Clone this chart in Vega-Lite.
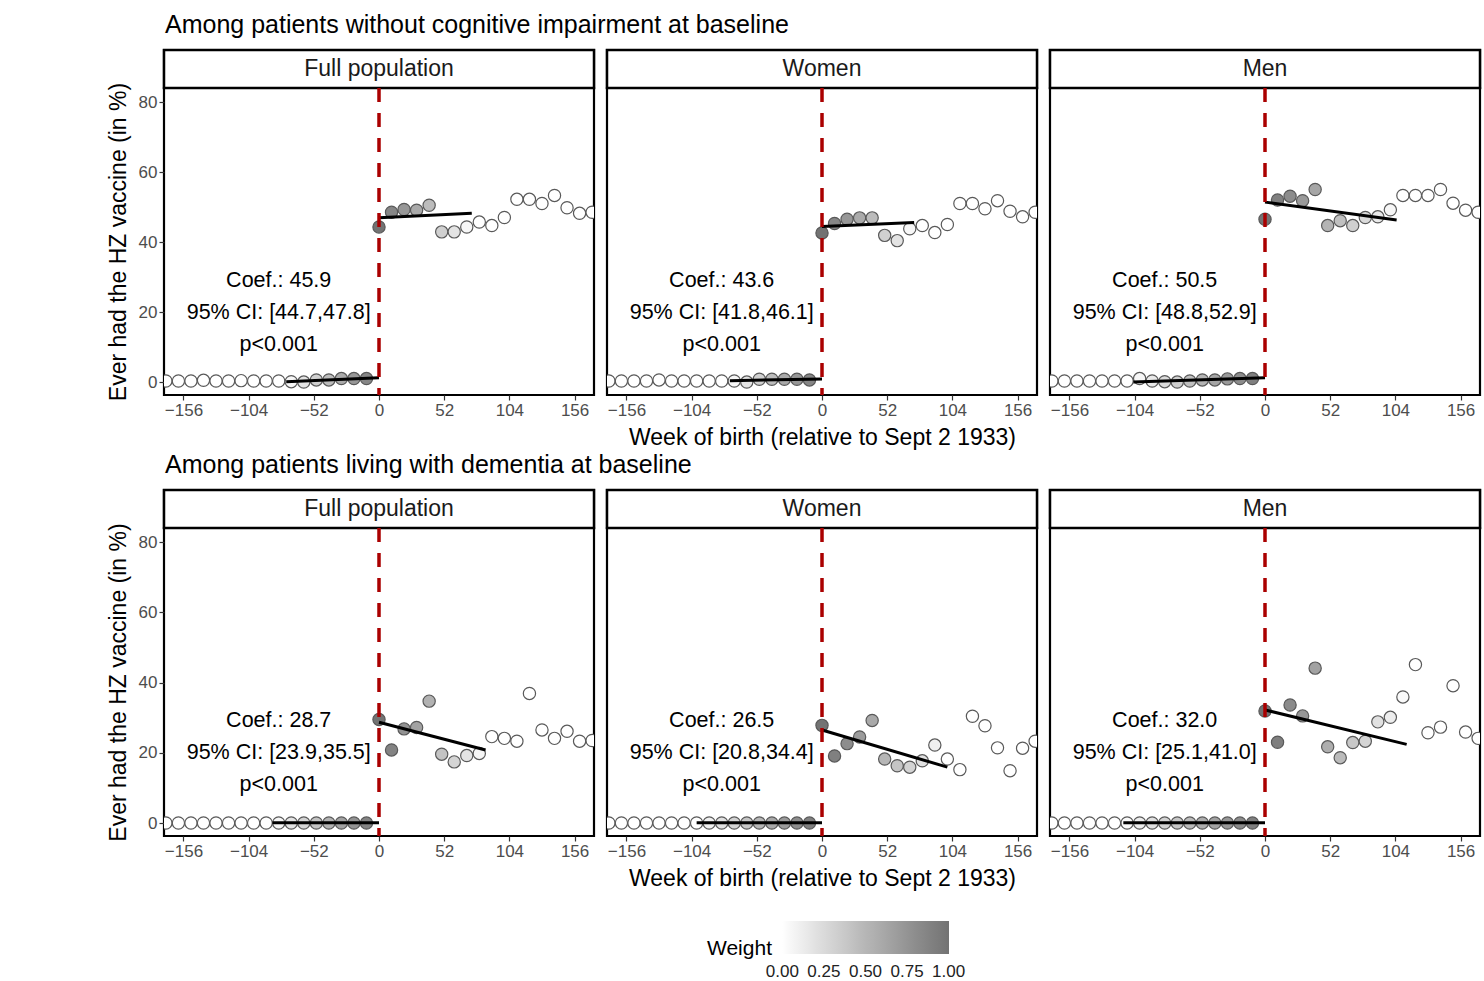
{
"$schema": "https://vega.github.io/schema/vega-lite/v6.json",
"background": "white",
"padding": {"left": 105, "top": 12, "right": 0, "bottom": 0},
"config": {
 "font": "Liberation Sans",
 "view": {"stroke": "black", "strokeWidth": 2.2},
 "axis": {"grid": false, "domain": false, "tickColor": "#333333", "tickSize": 5, "tickWidth": 1.2, "labelColor": "#4d4d4d", "labelFontSize": 17, "labelPadding": 2, "titleFontSize": 23, "titleFontWeight": "normal", "titleColor": "black"},
 "axisY": {"titlePadding": 8},
 "axisX": {"titlePadding": 8},
 "title": {"fontSize": 25, "fontWeight": "normal", "color": "black", "anchor": "start", "offset": 10}
},
"datasets": {
 "pts": [
  {"c":"A","g":"Full population","w":-170,"y":0.3,"wt":0},{"c":"A","g":"Full population","w":-160,"y":0.3,"wt":0},{"c":"A","g":"Full population","w":-150,"y":0.3,"wt":0},{"c":"A","g":"Full population","w":-140,"y":0.5,"wt":0},{"c":"A","g":"Full population","w":-130,"y":0.3,"wt":0},{"c":"A","g":"Full population","w":-120,"y":0.3,"wt":0},{"c":"A","g":"Full population","w":-110,"y":0.4,"wt":0},{"c":"A","g":"Full population","w":-100,"y":0.3,"wt":0},{"c":"A","g":"Full population","w":-90,"y":0.3,"wt":0},{"c":"A","g":"Full population","w":-80,"y":0.3,"wt":0},{"c":"A","g":"Full population","w":-70,"y":0.1,"wt":0.05},{"c":"A","g":"Full population","w":-60,"y":0.0,"wt":0.19},{"c":"A","g":"Full population","w":-50,"y":0.6,"wt":0.32},{"c":"A","g":"Full population","w":-40,"y":0.6,"wt":0.46},{"c":"A","g":"Full population","w":-30,"y":1.0,"wt":0.59},{"c":"A","g":"Full population","w":-20,"y":1.0,"wt":0.73},{"c":"A","g":"Full population","w":-10,"y":1.0,"wt":0.86},
  {"c":"A","g":"Full population","w":0,"y":44.3,"wt":1},{"c":"A","g":"Full population","w":10,"y":48.5,"wt":0.86},{"c":"A","g":"Full population","w":20,"y":49.3,"wt":0.73},{"c":"A","g":"Full population","w":30,"y":49.1,"wt":0.59},{"c":"A","g":"Full population","w":40,"y":50.5,"wt":0.46},{"c":"A","g":"Full population","w":50,"y":42.9,"wt":0.32},{"c":"A","g":"Full population","w":60,"y":42.9,"wt":0.19},{"c":"A","g":"Full population","w":70,"y":44.3,"wt":0.05},{"c":"A","g":"Full population","w":80,"y":45.7,"wt":0},{"c":"A","g":"Full population","w":90,"y":44.7,"wt":0},{"c":"A","g":"Full population","w":100,"y":47.0,"wt":0},{"c":"A","g":"Full population","w":110,"y":52.2,"wt":0},{"c":"A","g":"Full population","w":120,"y":52.2,"wt":0},{"c":"A","g":"Full population","w":130,"y":51.0,"wt":0},{"c":"A","g":"Full population","w":140,"y":53.3,"wt":0},{"c":"A","g":"Full population","w":150,"y":49.8,"wt":0},{"c":"A","g":"Full population","w":160,"y":48.2,"wt":0},{"c":"A","g":"Full population","w":170,"y":48.5,"wt":0},

  {"c":"A","g":"Women","w":-170,"y":0.3,"wt":0},{"c":"A","g":"Women","w":-160,"y":0.3,"wt":0},{"c":"A","g":"Women","w":-150,"y":0.3,"wt":0},{"c":"A","g":"Women","w":-140,"y":0.3,"wt":0},{"c":"A","g":"Women","w":-130,"y":0.6,"wt":0},{"c":"A","g":"Women","w":-120,"y":0.3,"wt":0},{"c":"A","g":"Women","w":-110,"y":0.3,"wt":0},{"c":"A","g":"Women","w":-100,"y":0.3,"wt":0},{"c":"A","g":"Women","w":-90,"y":0.3,"wt":0},{"c":"A","g":"Women","w":-80,"y":0.3,"wt":0},{"c":"A","g":"Women","w":-70,"y":0.3,"wt":0.05},{"c":"A","g":"Women","w":-60,"y":0.0,"wt":0.19},{"c":"A","g":"Women","w":-50,"y":0.8,"wt":0.32},{"c":"A","g":"Women","w":-40,"y":0.8,"wt":0.46},{"c":"A","g":"Women","w":-30,"y":0.8,"wt":0.59},{"c":"A","g":"Women","w":-20,"y":0.8,"wt":0.73},{"c":"A","g":"Women","w":-10,"y":0.6,"wt":0.86},
  {"c":"A","g":"Women","w":0,"y":42.6,"wt":1},{"c":"A","g":"Women","w":10,"y":45.3,"wt":0.86},{"c":"A","g":"Women","w":20,"y":46.5,"wt":0.73},{"c":"A","g":"Women","w":30,"y":46.9,"wt":0.59},{"c":"A","g":"Women","w":40,"y":46.9,"wt":0.46},{"c":"A","g":"Women","w":50,"y":41.9,"wt":0.32},{"c":"A","g":"Women","w":60,"y":40.4,"wt":0.19},{"c":"A","g":"Women","w":70,"y":43.8,"wt":0.05},{"c":"A","g":"Women","w":80,"y":44.7,"wt":0},{"c":"A","g":"Women","w":90,"y":42.7,"wt":0},{"c":"A","g":"Women","w":100,"y":45.0,"wt":0},{"c":"A","g":"Women","w":110,"y":51.0,"wt":0},{"c":"A","g":"Women","w":120,"y":51.0,"wt":0},{"c":"A","g":"Women","w":130,"y":49.5,"wt":0},{"c":"A","g":"Women","w":140,"y":51.8,"wt":0},{"c":"A","g":"Women","w":150,"y":48.8,"wt":0},{"c":"A","g":"Women","w":160,"y":47.2,"wt":0},{"c":"A","g":"Women","w":170,"y":48.5,"wt":0},

  {"c":"A","g":"Men","w":-170,"y":0.3,"wt":0},{"c":"A","g":"Men","w":-160,"y":0.3,"wt":0},{"c":"A","g":"Men","w":-150,"y":0.3,"wt":0},{"c":"A","g":"Men","w":-140,"y":0.3,"wt":0},{"c":"A","g":"Men","w":-130,"y":0.3,"wt":0},{"c":"A","g":"Men","w":-120,"y":0.3,"wt":0},{"c":"A","g":"Men","w":-110,"y":0.3,"wt":0},{"c":"A","g":"Men","w":-100,"y":1.0,"wt":0.05},{"c":"A","g":"Men","w":-90,"y":0.3,"wt":0.14},{"c":"A","g":"Men","w":-80,"y":0.1,"wt":0.24},{"c":"A","g":"Men","w":-70,"y":0.0,"wt":0.33},{"c":"A","g":"Men","w":-60,"y":0.3,"wt":0.43},{"c":"A","g":"Men","w":-50,"y":0.6,"wt":0.52},{"c":"A","g":"Men","w":-40,"y":0.6,"wt":0.62},{"c":"A","g":"Men","w":-30,"y":0.9,"wt":0.71},{"c":"A","g":"Men","w":-20,"y":1.0,"wt":0.81},{"c":"A","g":"Men","w":-10,"y":1.0,"wt":0.9},
  {"c":"A","g":"Men","w":0,"y":46.5,"wt":1},{"c":"A","g":"Men","w":10,"y":52.0,"wt":0.9},{"c":"A","g":"Men","w":20,"y":53.1,"wt":0.81},{"c":"A","g":"Men","w":30,"y":51.8,"wt":0.71},{"c":"A","g":"Men","w":40,"y":55.0,"wt":0.62},{"c":"A","g":"Men","w":50,"y":44.7,"wt":0.52},{"c":"A","g":"Men","w":60,"y":46.1,"wt":0.43},{"c":"A","g":"Men","w":70,"y":44.7,"wt":0.33},{"c":"A","g":"Men","w":80,"y":47.0,"wt":0.24},{"c":"A","g":"Men","w":90,"y":47.2,"wt":0.14},{"c":"A","g":"Men","w":100,"y":49.2,"wt":0.05},{"c":"A","g":"Men","w":110,"y":53.3,"wt":0},{"c":"A","g":"Men","w":120,"y":53.3,"wt":0},{"c":"A","g":"Men","w":130,"y":53.3,"wt":0},{"c":"A","g":"Men","w":140,"y":55.0,"wt":0},{"c":"A","g":"Men","w":150,"y":51.1,"wt":0},{"c":"A","g":"Men","w":160,"y":49.1,"wt":0},{"c":"A","g":"Men","w":170,"y":48.5,"wt":0},

  {"c":"B","g":"Full population","w":-170,"y":0,"wt":0},{"c":"B","g":"Full population","w":-160,"y":0,"wt":0},{"c":"B","g":"Full population","w":-150,"y":0,"wt":0},{"c":"B","g":"Full population","w":-140,"y":0,"wt":0},{"c":"B","g":"Full population","w":-130,"y":0,"wt":0},{"c":"B","g":"Full population","w":-120,"y":0,"wt":0},{"c":"B","g":"Full population","w":-110,"y":0,"wt":0},{"c":"B","g":"Full population","w":-100,"y":0,"wt":0},{"c":"B","g":"Full population","w":-90,"y":0,"wt":0},{"c":"B","g":"Full population","w":-80,"y":0,"wt":0.06},{"c":"B","g":"Full population","w":-70,"y":0,"wt":0.18},{"c":"B","g":"Full population","w":-60,"y":0,"wt":0.29},{"c":"B","g":"Full population","w":-50,"y":0,"wt":0.41},{"c":"B","g":"Full population","w":-40,"y":0,"wt":0.53},{"c":"B","g":"Full population","w":-30,"y":0,"wt":0.65},{"c":"B","g":"Full population","w":-20,"y":0,"wt":0.76},{"c":"B","g":"Full population","w":-10,"y":0,"wt":0.88},
  {"c":"B","g":"Full population","w":0,"y":29.5,"wt":1},{"c":"B","g":"Full population","w":10,"y":20.8,"wt":0.88},{"c":"B","g":"Full population","w":20,"y":26.8,"wt":0.76},{"c":"B","g":"Full population","w":30,"y":27.2,"wt":0.65},{"c":"B","g":"Full population","w":40,"y":34.7,"wt":0.53},{"c":"B","g":"Full population","w":50,"y":19.6,"wt":0.41},{"c":"B","g":"Full population","w":60,"y":17.4,"wt":0.29},{"c":"B","g":"Full population","w":70,"y":19.2,"wt":0.18},{"c":"B","g":"Full population","w":80,"y":19.8,"wt":0.06},{"c":"B","g":"Full population","w":90,"y":24.6,"wt":0},{"c":"B","g":"Full population","w":100,"y":24.1,"wt":0},{"c":"B","g":"Full population","w":110,"y":23.3,"wt":0},{"c":"B","g":"Full population","w":120,"y":36.9,"wt":0},{"c":"B","g":"Full population","w":130,"y":26.5,"wt":0},{"c":"B","g":"Full population","w":140,"y":24.1,"wt":0},{"c":"B","g":"Full population","w":150,"y":26.1,"wt":0},{"c":"B","g":"Full population","w":160,"y":23.3,"wt":0},{"c":"B","g":"Full population","w":170,"y":23.5,"wt":0},

  {"c":"B","g":"Women","w":-170,"y":0,"wt":0},{"c":"B","g":"Women","w":-160,"y":0,"wt":0},{"c":"B","g":"Women","w":-150,"y":0,"wt":0},{"c":"B","g":"Women","w":-140,"y":0,"wt":0},{"c":"B","g":"Women","w":-130,"y":0,"wt":0},{"c":"B","g":"Women","w":-120,"y":0,"wt":0},{"c":"B","g":"Women","w":-110,"y":0,"wt":0},{"c":"B","g":"Women","w":-100,"y":0,"wt":0},{"c":"B","g":"Women","w":-90,"y":0,"wt":0.1},{"c":"B","g":"Women","w":-80,"y":0,"wt":0.2},{"c":"B","g":"Women","w":-70,"y":0,"wt":0.3},{"c":"B","g":"Women","w":-60,"y":0,"wt":0.4},{"c":"B","g":"Women","w":-50,"y":0,"wt":0.5},{"c":"B","g":"Women","w":-40,"y":0,"wt":0.6},{"c":"B","g":"Women","w":-30,"y":0,"wt":0.7},{"c":"B","g":"Women","w":-20,"y":0,"wt":0.8},{"c":"B","g":"Women","w":-10,"y":0,"wt":0.9},
  {"c":"B","g":"Women","w":0,"y":27.8,"wt":1},{"c":"B","g":"Women","w":10,"y":19.1,"wt":0.9},{"c":"B","g":"Women","w":20,"y":22.6,"wt":0.8},{"c":"B","g":"Women","w":30,"y":24.5,"wt":0.7},{"c":"B","g":"Women","w":40,"y":29.2,"wt":0.6},{"c":"B","g":"Women","w":50,"y":18.2,"wt":0.5},{"c":"B","g":"Women","w":60,"y":16.3,"wt":0.4},{"c":"B","g":"Women","w":70,"y":15.9,"wt":0.3},{"c":"B","g":"Women","w":80,"y":17.7,"wt":0.2},{"c":"B","g":"Women","w":90,"y":22.2,"wt":0.1},{"c":"B","g":"Women","w":100,"y":18.2,"wt":0},{"c":"B","g":"Women","w":110,"y":15.2,"wt":0},{"c":"B","g":"Women","w":120,"y":30.4,"wt":0},{"c":"B","g":"Women","w":130,"y":27.7,"wt":0},{"c":"B","g":"Women","w":140,"y":21.4,"wt":0},{"c":"B","g":"Women","w":150,"y":14.9,"wt":0},{"c":"B","g":"Women","w":160,"y":21.3,"wt":0},{"c":"B","g":"Women","w":170,"y":23.3,"wt":0},

  {"c":"B","g":"Men","w":-170,"y":0,"wt":0},{"c":"B","g":"Men","w":-160,"y":0,"wt":0},{"c":"B","g":"Men","w":-150,"y":0,"wt":0},{"c":"B","g":"Men","w":-140,"y":0,"wt":0},{"c":"B","g":"Men","w":-130,"y":0,"wt":0},{"c":"B","g":"Men","w":-120,"y":0,"wt":0},{"c":"B","g":"Men","w":-110,"y":0,"wt":0.03},{"c":"B","g":"Men","w":-100,"y":0,"wt":0.12},{"c":"B","g":"Men","w":-90,"y":0,"wt":0.2},{"c":"B","g":"Men","w":-80,"y":0,"wt":0.29},{"c":"B","g":"Men","w":-70,"y":0,"wt":0.38},{"c":"B","g":"Men","w":-60,"y":0,"wt":0.47},{"c":"B","g":"Men","w":-50,"y":0,"wt":0.56},{"c":"B","g":"Men","w":-40,"y":0,"wt":0.65},{"c":"B","g":"Men","w":-30,"y":0,"wt":0.73},{"c":"B","g":"Men","w":-20,"y":0,"wt":0.82},{"c":"B","g":"Men","w":-10,"y":0,"wt":0.91},
  {"c":"B","g":"Men","w":0,"y":31.9,"wt":1},{"c":"B","g":"Men","w":10,"y":23.0,"wt":0.91},{"c":"B","g":"Men","w":20,"y":33.6,"wt":0.82},{"c":"B","g":"Men","w":30,"y":30.5,"wt":0.73},{"c":"B","g":"Men","w":40,"y":44.1,"wt":0.65},{"c":"B","g":"Men","w":50,"y":21.7,"wt":0.56},{"c":"B","g":"Men","w":60,"y":18.6,"wt":0.47},{"c":"B","g":"Men","w":70,"y":22.9,"wt":0.38},{"c":"B","g":"Men","w":80,"y":23.3,"wt":0.29},{"c":"B","g":"Men","w":90,"y":28.8,"wt":0.2},{"c":"B","g":"Men","w":100,"y":30.1,"wt":0.12},{"c":"B","g":"Men","w":110,"y":35.9,"wt":0.03},{"c":"B","g":"Men","w":120,"y":45.1,"wt":0},{"c":"B","g":"Men","w":130,"y":25.7,"wt":0},{"c":"B","g":"Men","w":140,"y":27.3,"wt":0},{"c":"B","g":"Men","w":150,"y":39.1,"wt":0},{"c":"B","g":"Men","w":160,"y":25.9,"wt":0},{"c":"B","g":"Men","w":170,"y":24.1,"wt":0}
 ],
 "lines": [
  {"c":"A","g":"Full population","s":"L","w":-74,"y":0.1},{"c":"A","g":"Full population","s":"L","w":0,"y":1.2},{"c":"A","g":"Full population","s":"R","w":0,"y":46.9},{"c":"A","g":"Full population","s":"R","w":74,"y":48.2},
  {"c":"A","g":"Women","s":"L","w":-73.5,"y":0.4},{"c":"A","g":"Women","s":"L","w":0,"y":0.9},{"c":"A","g":"Women","s":"R","w":0,"y":44.4},{"c":"A","g":"Women","s":"R","w":73.5,"y":45.6},
  {"c":"A","g":"Men","s":"L","w":-105,"y":0.0},{"c":"A","g":"Men","s":"L","w":0,"y":1.2},{"c":"A","g":"Men","s":"R","w":0,"y":51.4},{"c":"A","g":"Men","s":"R","w":105,"y":46.3},
  {"c":"B","g":"Full population","s":"L","w":-85,"y":0.1},{"c":"B","g":"Full population","s":"L","w":0,"y":0.1},{"c":"B","g":"Full population","s":"R","w":0,"y":28.7},{"c":"B","g":"Full population","s":"R","w":85,"y":20.8},
  {"c":"B","g":"Women","s":"L","w":-100,"y":0.1},{"c":"B","g":"Women","s":"L","w":0,"y":0.1},{"c":"B","g":"Women","s":"R","w":0,"y":26.5},{"c":"B","g":"Women","s":"R","w":100,"y":15.9},
  {"c":"B","g":"Men","s":"L","w":-113,"y":0.1},{"c":"B","g":"Men","s":"L","w":0,"y":0.1},{"c":"B","g":"Men","s":"R","w":0,"y":32.2},{"c":"B","g":"Men","s":"R","w":113,"y":22.4}
 ],
 "ann": [
  {"c":"A","g":"Full population","t":["Coef.: 45.9","95% CI: [44.7,47.8]","p<0.001"]},
  {"c":"A","g":"Women","t":["Coef.: 43.6","95% CI: [41.8,46.1]","p<0.001"]},
  {"c":"A","g":"Men","t":["Coef.: 50.5","95% CI: [48.8,52.9]","p<0.001"]},
  {"c":"B","g":"Full population","t":["Coef.: 28.7","95% CI: [23.9,35.5]","p<0.001"]},
  {"c":"B","g":"Women","t":["Coef.: 26.5","95% CI: [20.8,34.4]","p<0.001"]},
  {"c":"B","g":"Men","t":["Coef.: 32.0","95% CI: [25.1,41.0]","p<0.001"]}
 ]
},
"resolve": {"scale": {"fill": "shared"}, "legend": {"fill": "shared"}},
"spacing": 1,
"vconcat": [
 {"title": {"text": "Among patients without cognitive impairment at baseline", "dx": 59},
  "spacing": 7,
  "hconcat": [
   {"spacing": 0, "bounds": "flush", "vconcat": [
    {"width": 430, "height": 38, "data": {"values": [{"label": "Full population"}]}, "layer": [
     {"mark": {"type": "rect", "fill": "white", "stroke": "black", "strokeWidth": 2.5}, "encoding": {"x": {"datum": 0, "type": "quantitative", "scale": {"domain": [0, 1], "nice": false}, "axis": null}, "x2": {"datum": 1}, "y": {"datum": 0, "type": "quantitative", "scale": {"domain": [0, 1], "nice": false}, "axis": null}, "y2": {"datum": 1}}},
     {"mark": {"type": "text", "fontSize": 23, "color": "#1a1a1a"}, "encoding": {"x": {"datum": 0.5, "type": "quantitative", "axis": null}, "y": {"datum": 0.5, "type": "quantitative", "axis": null}, "text": {"field": "label", "type": "nominal"}}}
    ]},
    {"width": 430, "height": 307, "layer": [
     {"data": {"name": "pts"}, "transform": [{"filter": "datum.c==='A' && datum.g==='Full population'"}], "mark": {"type": "circle", "size": 150, "stroke": "#595959", "strokeWidth": 1.2, "opacity": 1, "clip": true},
      "encoding": {"x": {"field": "w", "type": "quantitative", "scale": {"domain": [-171.5, 171.5], "nice": false, "zero": false}, "axis": {"values": [-156,-104,-52,0,52,104,156], "title": null}},
       "y": {"field": "y", "type": "quantitative", "scale": {"domain": [-3.7, 84], "nice": false, "zero": false}, "axis": {"values": [0,20,40,60,80], "title": "Ever had the HZ vaccine (in %)"}},
       "fill": {"field": "wt", "type": "quantitative", "scale": {"domain": [-0.002, 1.002], "range": ["#ffffff", "#737373"]}, "legend": {"title": "Weight", "orient": "none", "legendX": 543, "legendY": 871, "direction": "horizontal", "gradientLength": 167, "gradientThickness": 33, "gradientStrokeWidth": 0, "titleOrient": "left", "titleAnchor": "middle", "titleBaseline": "top", "titleFontSize": 21, "titleFontWeight": "normal", "titleColor": "black", "titlePadding": 10, "labelFontSize": 17, "labelColor": "#222222", "labelOverlap": false, "labelOffset": 10, "values": [0, 0.25, 0.5, 0.75, 1], "format": ".2f"}}}},
     {"data": {"name": "lines"}, "transform": [{"filter": "datum.c==='A' && datum.g==='Full population'"}], "mark": {"type": "line", "color": "black", "strokeWidth": 3},
      "encoding": {"x": {"field": "w", "type": "quantitative", "axis": {"values": [-156,-104,-52,0,52,104,156], "title": null}}, "y": {"field": "y", "type": "quantitative", "axis": {"values": [0,20,40,60,80], "title": "Ever had the HZ vaccine (in %)"}}, "detail": {"field": "s"}}},
     {"data": {"values": [{}]}, "mark": {"type": "rule", "color": "#aa0000", "strokeWidth": 3.5, "strokeDash": [14, 11]}, "encoding": {"x": {"datum": 0, "type": "quantitative", "axis": {"values": [-156,-104,-52,0,52,104,156], "title": null}}}},
     {"data": {"name": "ann"}, "transform": [{"filter": "datum.c==='A' && datum.g==='Full population'"}], "mark": {"type": "text", "fontSize": 21.5, "lineHeight": 32, "color": "black"},
      "encoding": {"x": {"datum": -80, "type": "quantitative", "axis": {"values": [-156,-104,-52,0,52,104,156], "title": null}}, "y": {"datum": 29, "type": "quantitative", "axis": {"values": [0,20,40,60,80], "title": "Ever had the HZ vaccine (in %)"}}, "text": {"field": "t"}}}
    ]}
   ]},
   {"spacing": 0, "bounds": "flush", "vconcat": [
    {"width": 430, "height": 38, "data": {"values": [{"label": "Women"}]}, "layer": [
     {"mark": {"type": "rect", "fill": "white", "stroke": "black", "strokeWidth": 2.5}, "encoding": {"x": {"datum": 0, "type": "quantitative", "scale": {"domain": [0, 1], "nice": false}, "axis": null}, "x2": {"datum": 1}, "y": {"datum": 0, "type": "quantitative", "scale": {"domain": [0, 1], "nice": false}, "axis": null}, "y2": {"datum": 1}}},
     {"mark": {"type": "text", "fontSize": 23, "color": "#1a1a1a"}, "encoding": {"x": {"datum": 0.5, "type": "quantitative", "axis": null}, "y": {"datum": 0.5, "type": "quantitative", "axis": null}, "text": {"field": "label", "type": "nominal"}}}
    ]},
    {"width": 430, "height": 307, "layer": [
     {"data": {"name": "pts"}, "transform": [{"filter": "datum.c==='A' && datum.g==='Women'"}], "mark": {"type": "circle", "size": 150, "stroke": "#595959", "strokeWidth": 1.2, "opacity": 1, "clip": true},
      "encoding": {"x": {"field": "w", "type": "quantitative", "scale": {"domain": [-171.5, 171.5], "nice": false, "zero": false}, "axis": {"values": [-156,-104,-52,0,52,104,156], "title": "Week of birth (relative to Sept 2 1933)"}},
       "y": {"field": "y", "type": "quantitative", "scale": {"domain": [-3.7, 84], "nice": false, "zero": false}, "axis": null},
       "fill": {"field": "wt", "type": "quantitative", "scale": {"domain": [-0.002, 1.002], "range": ["#ffffff", "#737373"]}, "legend": {"title": "Weight", "orient": "none", "legendX": 543, "legendY": 871, "direction": "horizontal", "gradientLength": 167, "gradientThickness": 33, "gradientStrokeWidth": 0, "titleOrient": "left", "titleAnchor": "middle", "titleBaseline": "top", "titleFontSize": 21, "titleFontWeight": "normal", "titleColor": "black", "titlePadding": 10, "labelFontSize": 17, "labelColor": "#222222", "labelOverlap": false, "labelOffset": 10, "values": [0, 0.25, 0.5, 0.75, 1], "format": ".2f"}}}},
     {"data": {"name": "lines"}, "transform": [{"filter": "datum.c==='A' && datum.g==='Women'"}], "mark": {"type": "line", "color": "black", "strokeWidth": 3},
      "encoding": {"x": {"field": "w", "type": "quantitative", "axis": {"values": [-156,-104,-52,0,52,104,156], "title": "Week of birth (relative to Sept 2 1933)"}}, "y": {"field": "y", "type": "quantitative", "axis": null}, "detail": {"field": "s"}}},
     {"data": {"values": [{}]}, "mark": {"type": "rule", "color": "#aa0000", "strokeWidth": 3.5, "strokeDash": [14, 11]}, "encoding": {"x": {"datum": 0, "type": "quantitative", "axis": {"values": [-156,-104,-52,0,52,104,156], "title": "Week of birth (relative to Sept 2 1933)"}}}},
     {"data": {"name": "ann"}, "transform": [{"filter": "datum.c==='A' && datum.g==='Women'"}], "mark": {"type": "text", "fontSize": 21.5, "lineHeight": 32, "color": "black"},
      "encoding": {"x": {"datum": -80, "type": "quantitative", "axis": {"values": [-156,-104,-52,0,52,104,156], "title": "Week of birth (relative to Sept 2 1933)"}}, "y": {"datum": 29, "type": "quantitative", "axis": null}, "text": {"field": "t"}}}
    ]}
   ]},
   {"spacing": 0, "bounds": "flush", "vconcat": [
    {"width": 430, "height": 38, "data": {"values": [{"label": "Men"}]}, "layer": [
     {"mark": {"type": "rect", "fill": "white", "stroke": "black", "strokeWidth": 2.5}, "encoding": {"x": {"datum": 0, "type": "quantitative", "scale": {"domain": [0, 1], "nice": false}, "axis": null}, "x2": {"datum": 1}, "y": {"datum": 0, "type": "quantitative", "scale": {"domain": [0, 1], "nice": false}, "axis": null}, "y2": {"datum": 1}}},
     {"mark": {"type": "text", "fontSize": 23, "color": "#1a1a1a"}, "encoding": {"x": {"datum": 0.5, "type": "quantitative", "axis": null}, "y": {"datum": 0.5, "type": "quantitative", "axis": null}, "text": {"field": "label", "type": "nominal"}}}
    ]},
    {"width": 430, "height": 307, "layer": [
     {"data": {"name": "pts"}, "transform": [{"filter": "datum.c==='A' && datum.g==='Men'"}], "mark": {"type": "circle", "size": 150, "stroke": "#595959", "strokeWidth": 1.2, "opacity": 1, "clip": true},
      "encoding": {"x": {"field": "w", "type": "quantitative", "scale": {"domain": [-171.5, 171.5], "nice": false, "zero": false}, "axis": {"values": [-156,-104,-52,0,52,104,156], "title": null}},
       "y": {"field": "y", "type": "quantitative", "scale": {"domain": [-3.7, 84], "nice": false, "zero": false}, "axis": null},
       "fill": {"field": "wt", "type": "quantitative", "scale": {"domain": [-0.002, 1.002], "range": ["#ffffff", "#737373"]}, "legend": {"title": "Weight", "orient": "none", "legendX": 543, "legendY": 871, "direction": "horizontal", "gradientLength": 167, "gradientThickness": 33, "gradientStrokeWidth": 0, "titleOrient": "left", "titleAnchor": "middle", "titleBaseline": "top", "titleFontSize": 21, "titleFontWeight": "normal", "titleColor": "black", "titlePadding": 10, "labelFontSize": 17, "labelColor": "#222222", "labelOverlap": false, "labelOffset": 10, "values": [0, 0.25, 0.5, 0.75, 1], "format": ".2f"}}}},
     {"data": {"name": "lines"}, "transform": [{"filter": "datum.c==='A' && datum.g==='Men'"}], "mark": {"type": "line", "color": "black", "strokeWidth": 3},
      "encoding": {"x": {"field": "w", "type": "quantitative", "axis": {"values": [-156,-104,-52,0,52,104,156], "title": null}}, "y": {"field": "y", "type": "quantitative", "axis": null}, "detail": {"field": "s"}}},
     {"data": {"values": [{}]}, "mark": {"type": "rule", "color": "#aa0000", "strokeWidth": 3.5, "strokeDash": [14, 11]}, "encoding": {"x": {"datum": 0, "type": "quantitative", "axis": {"values": [-156,-104,-52,0,52,104,156], "title": null}}}},
     {"data": {"name": "ann"}, "transform": [{"filter": "datum.c==='A' && datum.g==='Men'"}], "mark": {"type": "text", "fontSize": 21.5, "lineHeight": 32, "color": "black"},
      "encoding": {"x": {"datum": -80, "type": "quantitative", "axis": {"values": [-156,-104,-52,0,52,104,156], "title": null}}, "y": {"datum": 29, "type": "quantitative", "axis": null}, "text": {"field": "t"}}}
    ]}
   ]}
  ]},
 {"title": {"text": "Among patients living with dementia at baseline", "dx": 59},
  "spacing": 7,
  "hconcat": [
   {"spacing": 0, "bounds": "flush", "vconcat": [
    {"width": 430, "height": 38, "data": {"values": [{"label": "Full population"}]}, "layer": [
     {"mark": {"type": "rect", "fill": "white", "stroke": "black", "strokeWidth": 2.5}, "encoding": {"x": {"datum": 0, "type": "quantitative", "scale": {"domain": [0, 1], "nice": false}, "axis": null}, "x2": {"datum": 1}, "y": {"datum": 0, "type": "quantitative", "scale": {"domain": [0, 1], "nice": false}, "axis": null}, "y2": {"datum": 1}}},
     {"mark": {"type": "text", "fontSize": 23, "color": "#1a1a1a"}, "encoding": {"x": {"datum": 0.5, "type": "quantitative", "axis": null}, "y": {"datum": 0.5, "type": "quantitative", "axis": null}, "text": {"field": "label", "type": "nominal"}}}
    ]},
    {"width": 430, "height": 308, "layer": [
     {"data": {"name": "pts"}, "transform": [{"filter": "datum.c==='B' && datum.g==='Full population'"}], "mark": {"type": "circle", "size": 150, "stroke": "#595959", "strokeWidth": 1.2, "opacity": 1, "clip": true},
      "encoding": {"x": {"field": "w", "type": "quantitative", "scale": {"domain": [-171.5, 171.5], "nice": false, "zero": false}, "axis": {"values": [-156,-104,-52,0,52,104,156], "title": null}},
       "y": {"field": "y", "type": "quantitative", "scale": {"domain": [-3.7, 84], "nice": false, "zero": false}, "axis": {"values": [0,20,40,60,80], "title": "Ever had the HZ vaccine (in %)"}},
       "fill": {"field": "wt", "type": "quantitative", "scale": {"domain": [-0.002, 1.002], "range": ["#ffffff", "#737373"]}, "legend": {"title": "Weight", "orient": "none", "legendX": 543, "legendY": 871, "direction": "horizontal", "gradientLength": 167, "gradientThickness": 33, "gradientStrokeWidth": 0, "titleOrient": "left", "titleAnchor": "middle", "titleBaseline": "top", "titleFontSize": 21, "titleFontWeight": "normal", "titleColor": "black", "titlePadding": 10, "labelFontSize": 17, "labelColor": "#222222", "labelOverlap": false, "labelOffset": 10, "values": [0, 0.25, 0.5, 0.75, 1], "format": ".2f"}}}},
     {"data": {"name": "lines"}, "transform": [{"filter": "datum.c==='B' && datum.g==='Full population'"}], "mark": {"type": "line", "color": "black", "strokeWidth": 3},
      "encoding": {"x": {"field": "w", "type": "quantitative", "axis": {"values": [-156,-104,-52,0,52,104,156], "title": null}}, "y": {"field": "y", "type": "quantitative", "axis": {"values": [0,20,40,60,80], "title": "Ever had the HZ vaccine (in %)"}}, "detail": {"field": "s"}}},
     {"data": {"values": [{}]}, "mark": {"type": "rule", "color": "#aa0000", "strokeWidth": 3.5, "strokeDash": [14, 11]}, "encoding": {"x": {"datum": 0, "type": "quantitative", "axis": {"values": [-156,-104,-52,0,52,104,156], "title": null}}}},
     {"data": {"name": "ann"}, "transform": [{"filter": "datum.c==='B' && datum.g==='Full population'"}], "mark": {"type": "text", "fontSize": 21.5, "lineHeight": 32, "color": "black"},
      "encoding": {"x": {"datum": -80, "type": "quantitative", "axis": {"values": [-156,-104,-52,0,52,104,156], "title": null}}, "y": {"datum": 29, "type": "quantitative", "axis": {"values": [0,20,40,60,80], "title": "Ever had the HZ vaccine (in %)"}}, "text": {"field": "t"}}}
    ]}
   ]},
   {"spacing": 0, "bounds": "flush", "vconcat": [
    {"width": 430, "height": 38, "data": {"values": [{"label": "Women"}]}, "layer": [
     {"mark": {"type": "rect", "fill": "white", "stroke": "black", "strokeWidth": 2.5}, "encoding": {"x": {"datum": 0, "type": "quantitative", "scale": {"domain": [0, 1], "nice": false}, "axis": null}, "x2": {"datum": 1}, "y": {"datum": 0, "type": "quantitative", "scale": {"domain": [0, 1], "nice": false}, "axis": null}, "y2": {"datum": 1}}},
     {"mark": {"type": "text", "fontSize": 23, "color": "#1a1a1a"}, "encoding": {"x": {"datum": 0.5, "type": "quantitative", "axis": null}, "y": {"datum": 0.5, "type": "quantitative", "axis": null}, "text": {"field": "label", "type": "nominal"}}}
    ]},
    {"width": 430, "height": 308, "layer": [
     {"data": {"name": "pts"}, "transform": [{"filter": "datum.c==='B' && datum.g==='Women'"}], "mark": {"type": "circle", "size": 150, "stroke": "#595959", "strokeWidth": 1.2, "opacity": 1, "clip": true},
      "encoding": {"x": {"field": "w", "type": "quantitative", "scale": {"domain": [-171.5, 171.5], "nice": false, "zero": false}, "axis": {"values": [-156,-104,-52,0,52,104,156], "title": "Week of birth (relative to Sept 2 1933)"}},
       "y": {"field": "y", "type": "quantitative", "scale": {"domain": [-3.7, 84], "nice": false, "zero": false}, "axis": null},
       "fill": {"field": "wt", "type": "quantitative", "scale": {"domain": [-0.002, 1.002], "range": ["#ffffff", "#737373"]}, "legend": {"title": "Weight", "orient": "none", "legendX": 543, "legendY": 871, "direction": "horizontal", "gradientLength": 167, "gradientThickness": 33, "gradientStrokeWidth": 0, "titleOrient": "left", "titleAnchor": "middle", "titleBaseline": "top", "titleFontSize": 21, "titleFontWeight": "normal", "titleColor": "black", "titlePadding": 10, "labelFontSize": 17, "labelColor": "#222222", "labelOverlap": false, "labelOffset": 10, "values": [0, 0.25, 0.5, 0.75, 1], "format": ".2f"}}}},
     {"data": {"name": "lines"}, "transform": [{"filter": "datum.c==='B' && datum.g==='Women'"}], "mark": {"type": "line", "color": "black", "strokeWidth": 3},
      "encoding": {"x": {"field": "w", "type": "quantitative", "axis": {"values": [-156,-104,-52,0,52,104,156], "title": "Week of birth (relative to Sept 2 1933)"}}, "y": {"field": "y", "type": "quantitative", "axis": null}, "detail": {"field": "s"}}},
     {"data": {"values": [{}]}, "mark": {"type": "rule", "color": "#aa0000", "strokeWidth": 3.5, "strokeDash": [14, 11]}, "encoding": {"x": {"datum": 0, "type": "quantitative", "axis": {"values": [-156,-104,-52,0,52,104,156], "title": "Week of birth (relative to Sept 2 1933)"}}}},
     {"data": {"name": "ann"}, "transform": [{"filter": "datum.c==='B' && datum.g==='Women'"}], "mark": {"type": "text", "fontSize": 21.5, "lineHeight": 32, "color": "black"},
      "encoding": {"x": {"datum": -80, "type": "quantitative", "axis": {"values": [-156,-104,-52,0,52,104,156], "title": "Week of birth (relative to Sept 2 1933)"}}, "y": {"datum": 29, "type": "quantitative", "axis": null}, "text": {"field": "t"}}}
    ]}
   ]},
   {"spacing": 0, "bounds": "flush", "vconcat": [
    {"width": 430, "height": 38, "data": {"values": [{"label": "Men"}]}, "layer": [
     {"mark": {"type": "rect", "fill": "white", "stroke": "black", "strokeWidth": 2.5}, "encoding": {"x": {"datum": 0, "type": "quantitative", "scale": {"domain": [0, 1], "nice": false}, "axis": null}, "x2": {"datum": 1}, "y": {"datum": 0, "type": "quantitative", "scale": {"domain": [0, 1], "nice": false}, "axis": null}, "y2": {"datum": 1}}},
     {"mark": {"type": "text", "fontSize": 23, "color": "#1a1a1a"}, "encoding": {"x": {"datum": 0.5, "type": "quantitative", "axis": null}, "y": {"datum": 0.5, "type": "quantitative", "axis": null}, "text": {"field": "label", "type": "nominal"}}}
    ]},
    {"width": 430, "height": 308, "layer": [
     {"data": {"name": "pts"}, "transform": [{"filter": "datum.c==='B' && datum.g==='Men'"}], "mark": {"type": "circle", "size": 150, "stroke": "#595959", "strokeWidth": 1.2, "opacity": 1, "clip": true},
      "encoding": {"x": {"field": "w", "type": "quantitative", "scale": {"domain": [-171.5, 171.5], "nice": false, "zero": false}, "axis": {"values": [-156,-104,-52,0,52,104,156], "title": null}},
       "y": {"field": "y", "type": "quantitative", "scale": {"domain": [-3.7, 84], "nice": false, "zero": false}, "axis": null},
       "fill": {"field": "wt", "type": "quantitative", "scale": {"domain": [-0.002, 1.002], "range": ["#ffffff", "#737373"]}, "legend": {"title": "Weight", "orient": "none", "legendX": 543, "legendY": 871, "direction": "horizontal", "gradientLength": 167, "gradientThickness": 33, "gradientStrokeWidth": 0, "titleOrient": "left", "titleAnchor": "middle", "titleBaseline": "top", "titleFontSize": 21, "titleFontWeight": "normal", "titleColor": "black", "titlePadding": 10, "labelFontSize": 17, "labelColor": "#222222", "labelOverlap": false, "labelOffset": 10, "values": [0, 0.25, 0.5, 0.75, 1], "format": ".2f"}}}},
     {"data": {"name": "lines"}, "transform": [{"filter": "datum.c==='B' && datum.g==='Men'"}], "mark": {"type": "line", "color": "black", "strokeWidth": 3},
      "encoding": {"x": {"field": "w", "type": "quantitative", "axis": {"values": [-156,-104,-52,0,52,104,156], "title": null}}, "y": {"field": "y", "type": "quantitative", "axis": null}, "detail": {"field": "s"}}},
     {"data": {"values": [{}]}, "mark": {"type": "rule", "color": "#aa0000", "strokeWidth": 3.5, "strokeDash": [14, 11]}, "encoding": {"x": {"datum": 0, "type": "quantitative", "axis": {"values": [-156,-104,-52,0,52,104,156], "title": null}}}},
     {"data": {"name": "ann"}, "transform": [{"filter": "datum.c==='B' && datum.g==='Men'"}], "mark": {"type": "text", "fontSize": 21.5, "lineHeight": 32, "color": "black"},
      "encoding": {"x": {"datum": -80, "type": "quantitative", "axis": {"values": [-156,-104,-52,0,52,104,156], "title": null}}, "y": {"datum": 29, "type": "quantitative", "axis": null}, "text": {"field": "t"}}}
    ]}
   ]}
  ]}
]
}
